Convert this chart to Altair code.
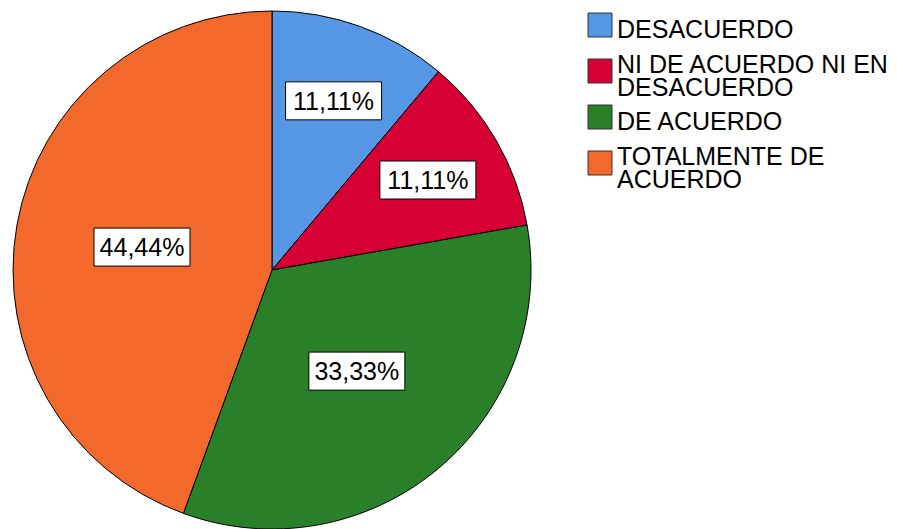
import altair as alt
import pandas as pd

# ---- data ----
categories = ["DESACUERDO", "NI DE ACUERDO NI EN DESACUERDO", "DE ACUERDO", "TOTALMENTE DE ACUERDO"]
legend_labels = ["DESACUERDO", "NI DE ACUERDO NI EN\nDESACUERDO", "DE ACUERDO", "TOTALMENTE DE\nACUERDO"]
percentages = [11.11, 11.11, 33.33, 44.44]
pct_labels = ["11,11%", "11,11%", "33,33%", "44,44%"]
colors = ["#5596E5", "#D60034", "#2A8028", "#F3692C"]

df = pd.DataFrame({
    "cat": categories,
    "legend": legend_labels,
    "pct": percentages,
    "label": pct_labels,
    "order": list(range(len(categories))),
})

CX, CY, R = 272, 270, 259
FONT = "Liberation Sans"
LH = 23

color = alt.Color("cat:N", scale=alt.Scale(domain=categories, range=colors), legend=None)
base = alt.Chart(df)

pie = base.mark_arc(radius=R, stroke="black", strokeWidth=1, x=CX, y=CY).encode(
    theta=alt.Theta("pct:Q", stack=True),
    color=color,
    order=alt.Order("order:Q"),
)

lab = (
    base.transform_window(cum="sum(pct)", sort=[alt.SortField("order")], frame=[None, 0])
    .transform_joinaggregate(total="sum(pct)")
    .transform_calculate(
        mid="(datum.cum - datum.pct/2) / datum.total * 2 * PI",
        r="datum.pct < 20 ? 180 : 132",
    )
    .transform_calculate(
        lx=f"{CX} + datum.r * sin(datum.mid)",
        ly=f"{CY} - datum.r * cos(datum.mid)",
    )
    .transform_calculate(
        bx0="datum.lx - 48", bx1="datum.lx + 48",
        by0="datum.ly - 19", by1="datum.ly + 19",
    )
)

boxes = lab.mark_rect(fill="white", stroke="black", strokeWidth=1).encode(
    x=alt.X("bx0:Q", scale=None, axis=None),
    x2="bx1:Q",
    y=alt.Y("by0:Q", scale=None, axis=None),
    y2="by1:Q",
)

texts = lab.mark_text(font=FONT, fontSize=25, color="black", align="center",
                      baseline="middle", dy=1).encode(
    x=alt.X("lx:Q", scale=None, axis=None),
    y=alt.Y("ly:Q", scale=None, axis=None),
    text="label:N",
)

leg_y = alt.Y("cat:N", scale=alt.Scale(type="point", domain=categories, range=[25, 163], padding=0),
              axis=None)

leg_sq = base.mark_square(size=576, filled=True, stroke="#333333", strokeWidth=1, opacity=1).encode(
    x=alt.value(600),
    y=leg_y,
    color=color,
)

leg_txt = (
    base.transform_calculate(
        off=f"-(length(split(datum.legend, '\\n')) - 1) * {LH} / 2"
    )
    .mark_text(font=FONT, fontSize=25, color="black", align="left", baseline="middle",
               lineBreak="\n", lineHeight=LH, dy=5)
    .encode(
        x=alt.value(617),
        y=leg_y,
        yOffset=alt.YOffset("off:Q", scale=None),
        text="legend:N",
    )
)

chart = (
    alt.layer(pie, boxes, texts, leg_sq, leg_txt)
    .resolve_scale(y="independent", x="independent")
    .properties(width=897, height=529, autosize="none", padding=0, background="white")
    .configure_view(stroke=None)
)

chart.save("out.html", embed_options={"renderer": "svg", "actions": False})
